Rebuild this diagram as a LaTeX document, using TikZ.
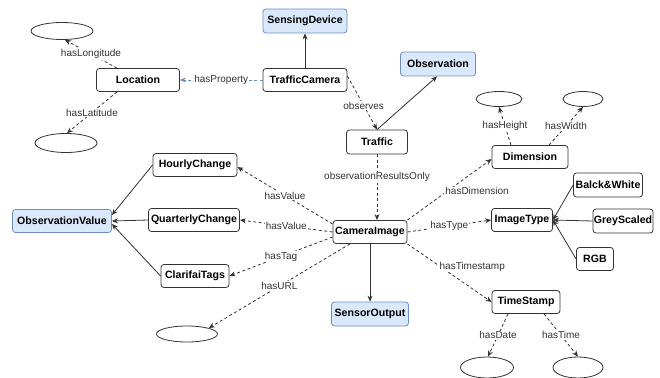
\documentclass[tikz,border=0pt]{standalone}
\usepackage{fontspec}
\setmainfont{Liberation Sans}
\usetikzlibrary{arrows.meta,shapes.geometric}
\definecolor{dblue}{HTML}{DAE8FC}
\definecolor{dborder}{HTML}{6C8EBF}
\definecolor{lineg}{HTML}{333333}
\tikzset{
  box/.style={draw=lineg, rounded corners=3pt, fill=white, inner sep=0pt, line width=0.8pt,
    minimum height=23pt, font=\bfseries\fontsize{10.6}{12}\selectfont, text=black},
  bluebox/.style={box, fill=dblue, draw=dborder},
  oval/.style={draw=lineg, ellipse, inner sep=0pt, line width=0.8pt},
  lbl/.style={fill=white, inner sep=1pt, font=\fontsize{10}{12}\selectfont, text=lineg},
  solidedge/.style={draw=lineg, line width=0.8pt, -{Stealth[length=6pt,width=5pt]}},
  dashedge/.style={draw=lineg, line width=0.8pt, dash pattern=on 3pt off 2.5pt, -{Stealth[length=6pt,width=5pt]}},
}
\begin{document}
\begin{tikzpicture}[x=1pt,y=-1pt]
\useasboundingbox (0,0) rectangle (660,377);
% nodes
\node[bluebox, minimum width=84pt, minimum height=24pt] (sens) at (305,21) {SensingDevice};
\node[box, minimum width=84pt] (tcam) at (305,80) {TrafficCamera};
\node[box, minimum width=83pt] (loc) at (138,80) {Location};
\node[oval, minimum width=62pt, minimum height=17pt] (ellLon) at (62,31) {};
\node[oval, minimum width=62pt, minimum height=19pt] (ellLat) at (66,143) {};
\node[bluebox, minimum width=75pt, minimum height=24pt] (obs) at (438,64) {Observation};
\node[box, minimum width=61pt, minimum height=24pt] (traffic) at (377,142) {Traffic};
\node[box, minimum width=74pt] (cam) at (370,232) {CameraImage};
\node[bluebox, minimum width=77pt, minimum height=24pt] (sout) at (370,314) {SensorOutput};
\node[box, minimum width=76pt] (dim) at (530,157) {Dimension};
\node[oval, minimum width=46pt, minimum height=15pt] (ellH) at (499,99) {};
\node[oval, minimum width=40pt, minimum height=15pt] (ellW) at (583,99) {};
\node[box, minimum width=61pt] (imgt) at (522,220) {ImageType};
\node[box, minimum width=69pt, minimum height=24pt] (bw) at (608,185) {Balck\&White};
\node[box, minimum width=60pt, minimum height=24pt] (grey) at (623,221) {GreyScaled};
\node[box, minimum width=37pt] (rgb) at (595,259) {RGB};
\node[box, minimum width=68pt] (ts) at (526,302) {TimeStamp};
\node[oval, minimum width=53pt, minimum height=21pt] (ellD) at (487,367.5) {};
\node[oval, minimum width=50pt, minimum height=21pt] (ellT) at (578,367.5) {};
\node[bluebox, minimum width=99pt] (oval) at (62,221) {ObservationValue};
\node[box, minimum width=84pt] (hourly) at (195,165) {HourlyChange};
\node[box, minimum width=91pt] (quarter) at (194,220) {QuarterlyChange};
\node[box, minimum width=68pt] (clar) at (195,276) {ClarifaiTags};
\node[oval, minimum width=61pt, minimum height=16pt] (ellU) at (187,334) {};
% edges
\draw[solidedge] (tcam.north) -- (sens.south);
\draw[dashedge, draw=dborder] (tcam.west) -- node[lbl]{hasProperty} (loc.east);
\draw[dashedge] ([xshift=-21pt]loc.north) -- node[lbl]{hasLongitude} ([xshift=3pt]ellLon.south);
\draw[dashedge] ([xshift=-21pt]loc.south) -- node[lbl]{hasLatitude} ([xshift=1pt]ellLat.north);
\draw[dashedge] ([yshift=4pt]tcam.east) -- node[lbl, pos=0.55]{observes} (traffic.north);
\draw[solidedge] (traffic.north) -- ([xshift=-1pt]obs.south);
\draw[dashedge] (traffic.south) -- node[lbl, pos=0.35]{observationResultsOnly} ([xshift=7pt]cam.north);
\draw[solidedge] (cam.south) -- (sout.north);
\draw[dashedge] ([yshift=8pt]cam.west) -- node[lbl]{hasValue} ([yshift=-2pt]hourly.east);
\draw[dashedge] (cam.west) -- node[lbl]{hasValue} (quarter.east);
\draw[dashedge] ([yshift=-5pt]cam.west) -- node[lbl]{hasTag} (clar.east);
\draw[dashedge] ([xshift=-20pt]cam.south) -- node[lbl]{hasURL} (ellU.north east);
\draw[dashedge] (cam.north east) -- node[lbl, pos=0.47, anchor=west, xshift=-3pt]{hasDimension} ([yshift=-2pt]dim.west);
\draw[dashedge] (cam.east) -- node[lbl]{hasType} (imgt.west);
\draw[dashedge] (cam.south east) -- node[lbl, pos=0.39, anchor=west, xshift=-2pt]{hasTimestamp} (ts.west);
\draw[dashedge] ([xshift=-19pt]dim.north) -- node[lbl]{hasHeight} (ellH.south);
\draw[dashedge] ([xshift=19pt]dim.north) -- node[lbl]{hasWidth} (ellW.south);
\draw[solidedge] (bw.west) -- (imgt.east);
\draw[solidedge] (grey.west) -- (imgt.east);
\draw[solidedge] (rgb.west) -- (imgt.east);
\draw[dashedge] ([xshift=-18pt]ts.south) -- node[lbl]{hasDate} ([xshift=1pt]ellD.north);
\draw[dashedge] ([xshift=18pt]ts.south) -- node[lbl]{hasTime} (ellT.north);
\draw[solidedge] (hourly.west) -- ([yshift=6pt]oval.east);
\draw[solidedge] (quarter.west) -- (oval.east);
\draw[solidedge] (clar.west) -- ([yshift=-3pt]oval.east);
\end{tikzpicture}
\end{document}
